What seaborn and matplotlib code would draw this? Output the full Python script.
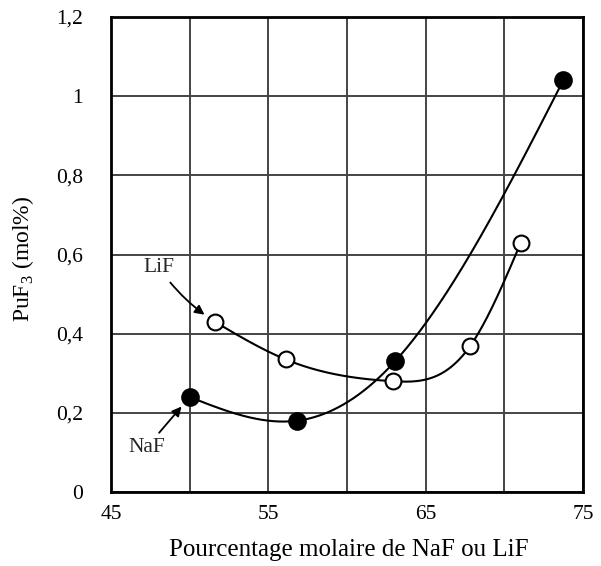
import numpy as np
import pandas as pd
import matplotlib
matplotlib.use("Agg")
import matplotlib.pyplot as plt
import seaborn as sns
from matplotlib.ticker import FixedLocator

# ---- data ----
naf_x = [50.0, 56.8, 63.05, 73.75]
naf_y = [0.24, 0.18, 0.33, 1.04]
lif_x = [51.6, 56.1, 62.9, 67.85, 71.05]
lif_y = [0.43, 0.335, 0.28, 0.37, 0.63]
x_ticks = [45, 55, 65, 75]
x_tick_labels = ["45", "55", "65", "75"]
x_grid = [50, 60, 70]
y_ticks = [0, 0.2, 0.4, 0.6, 0.8, 1.0, 1.2]
y_tick_labels = ["0", "0,2", "0,4", "0,6", "0,8", "1", "1,2"]


def natural_spline(x, y, n=300):
    x = np.asarray(x, float); y = np.asarray(y, float)
    m = len(x); h = np.diff(x)
    A = np.zeros((m, m)); b = np.zeros(m)
    A[0, 0] = 1; A[-1, -1] = 1
    for i in range(1, m - 1):
        A[i, i - 1] = h[i - 1]; A[i, i] = 2 * (h[i - 1] + h[i]); A[i, i + 1] = h[i]
        b[i] = 3 * ((y[i + 1] - y[i]) / h[i] - (y[i] - y[i - 1]) / h[i - 1])
    c = np.linalg.solve(A, b)
    xs = np.linspace(x[0], x[-1], n); ys = np.empty_like(xs)
    for k, xv in enumerate(xs):
        i = min(np.searchsorted(x, xv, side="right") - 1, m - 2)
        dx = xv - x[i]
        bi = (y[i + 1] - y[i]) / h[i] - h[i] * (2 * c[i] + c[i + 1]) / 3
        di = (c[i + 1] - c[i]) / (3 * h[i])
        ys[k] = y[i] + bi * dx + c[i] * dx ** 2 + di * dx ** 3
    return xs, ys


sns.set_theme(style="white")
plt.rcParams["font.family"] = ["Liberation Serif", "DejaVu Serif"]
plt.rcParams["mathtext.fontset"] = "custom"
plt.rcParams["mathtext.rm"] = "Liberation Serif"

fig = plt.figure(figsize=(6.01, 5.66), dpi=100)
ax = fig.add_axes([0.1847, 0.1307, 0.7853, 0.8393])

sx, sy = natural_spline(naf_x, naf_y)
lx, ly = natural_spline(lif_x, lif_y)
sns.lineplot(x=sx, y=sy, ax=ax, color="black", lw=1.5, sort=False)
sns.lineplot(x=lx, y=ly, ax=ax, color="black", lw=1.5, sort=False)
sns.scatterplot(x=naf_x, y=naf_y, ax=ax, s=150, color="black", edgecolor="black", linewidth=1.2, zorder=5)
sns.scatterplot(x=lif_x, y=lif_y, ax=ax, s=130, color="white", edgecolor="black", linewidth=1.5, zorder=5)

ax.set_xlim(45, 75)
ax.set_ylim(0, 1.2)
ax.xaxis.set_major_locator(FixedLocator(x_ticks))
ax.xaxis.set_minor_locator(FixedLocator(x_grid))
ax.set_xticklabels(x_tick_labels)
ax.set_yticks(y_ticks)
ax.set_yticklabels(y_tick_labels)
ax.grid(True, which="both", color="#444444", lw=1.4)
ax.tick_params(which="both", length=0, labelsize=15.5, colors="black")
ax.tick_params(axis="y", pad=20)
ax.tick_params(axis="x", pad=9)
for s in ax.spines.values():
    s.set_color("black"); s.set_linewidth(2.0)

ax.set_xlabel("Pourcentage molaire de NaF ou LiF", fontsize=18, color="black")
ax.set_ylabel("PuF$_3$ (mol%)", fontsize=17, color="black")
ax.xaxis.set_label_coords(0.504, -0.098)
ax.yaxis.set_label_coords(-0.158, 0.49)

arrow = dict(arrowstyle="-|>", color="black", lw=1.3, mutation_scale=14, shrinkA=2, shrinkB=9)
ax.annotate("LiF", xy=(lif_x[0], lif_y[0]), xytext=(48.05, 0.567), fontsize=15.5,
            ha="center", va="center", arrowprops=dict(arrow, connectionstyle="arc3,rad=0.1"))
ax.annotate("NaF", xy=(naf_x[0], naf_y[0]), xytext=(47.25, 0.112), fontsize=15.5,
            ha="center", va="center", arrowprops=arrow)

fig.savefig("out.png", dpi=100, facecolor="white")
